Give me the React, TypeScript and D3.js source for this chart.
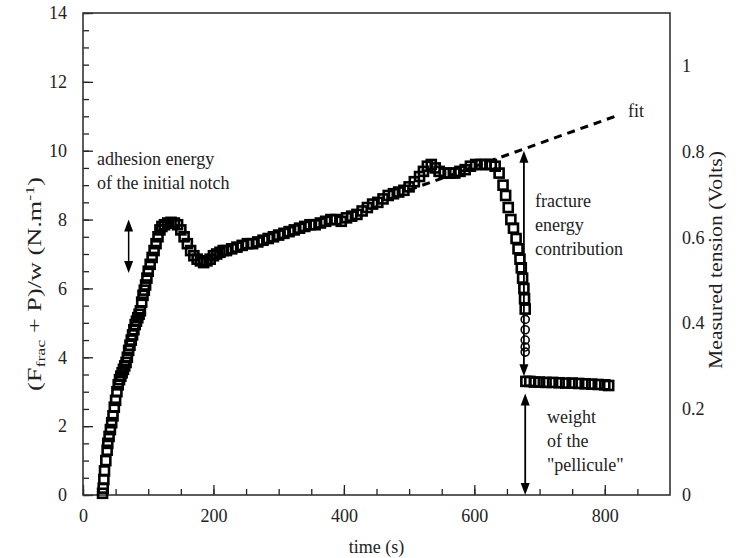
import React, { useRef, useEffect } from "react";
import * as d3 from "d3";

// measured points (time in s, (Ffrac+P)/w in N/m)
const squareTime = [
  30, 31, 32, 33, 35, 37, 38, 40, 42, 44, 46, 48, 50, 52, 54, 56, 58, 60, 62, 64,
  66, 68, 70, 72, 74, 76, 78, 80, 82, 84, 86, 88, 90, 92, 94, 96, 98, 100, 103, 106,
  109, 112, 115, 118, 121, 125, 130, 135, 140, 145, 150, 155, 160, 165, 170, 175, 180, 185, 190, 195,
  200, 205, 210, 215, 220, 228, 236, 244, 252, 260, 268, 276, 284, 292, 300, 308, 316, 324, 332, 340,
  348, 356, 364, 372, 380, 388, 396, 404, 412, 420, 428, 436, 444, 452, 460, 468, 476, 484, 492, 500,
  508, 516, 522, 528, 534, 540, 546, 554, 562, 570, 578, 586, 594, 602, 610, 618, 626, 632, 638, 644,
  648, 652, 656, 660, 664, 667, 670, 672, 674, 676, 677, 678,
  679, 685, 692, 700, 710, 720, 730, 740, 750, 760, 770, 780, 790, 800, 806,
];
const squareValue = [
  0.05, 0.2, 0.45, 0.7, 1.0, 1.3, 1.5, 1.7, 1.9, 2.1, 2.3, 2.55, 2.75, 3.0, 3.2, 3.35, 3.45, 3.55, 3.65, 3.75,
  3.85, 4.0, 4.2, 4.35, 4.5, 4.65, 4.8, 4.95, 5.05, 5.15, 5.25, 5.35, 5.6, 5.8, 5.95, 6.1, 6.3, 6.5, 6.7, 6.9,
  7.1, 7.3, 7.5, 7.7, 7.8, 7.85, 7.9, 7.92, 7.9, 7.85, 7.7, 7.5, 7.3, 7.1, 6.95, 6.85, 6.8, 6.75, 6.8, 6.85,
  6.95, 7.0, 7.05, 7.1, 7.1, 7.15, 7.2, 7.25, 7.3, 7.3, 7.35, 7.4, 7.45, 7.5, 7.55, 7.6, 7.65, 7.7, 7.75, 7.8,
  7.85, 7.85, 7.9, 7.95, 8.0, 8.0, 7.95, 8.05, 8.1, 8.15, 8.25, 8.35, 8.45, 8.5, 8.6, 8.7, 8.75, 8.8, 8.85, 8.95,
  9.1, 9.25, 9.4, 9.55, 9.6, 9.5, 9.4, 9.35, 9.35, 9.35, 9.4, 9.45, 9.55, 9.6, 9.6, 9.6, 9.6, 9.55, 9.35, 9.0,
  8.7, 8.35, 8.0, 7.75, 7.45, 7.15, 6.85, 6.6, 6.3, 6.0, 5.7, 5.4,
  3.3, 3.3, 3.28, 3.28, 3.27, 3.27, 3.26, 3.25, 3.25, 3.24, 3.23, 3.22, 3.21, 3.2, 3.18,
];
const circleTime = [678, 678, 678, 678, 678];
const circleValue = [5.1, 4.8, 4.5, 4.3, 4.15];

// linear fit of the propagation part
const fitTime = [500, 816];
const fitValue = [8.86, 11.0];

const leftTicks = [0, 2, 4, 6, 8, 10, 12, 14];
const rightTicks = [0, 0.2, 0.4, 0.6, 0.8, 1];
const bottomTicks = [0, 200, 400, 600, 800];

const FONT = "'Liberation Serif', 'Times New Roman', serif";
const INK = "#222";

const App = () => {
  const svgRef = useRef(null);

  useEffect(() => {
    const width = 743;
    const height = 558;
    const svg = d3.select(svgRef.current);
    svg.selectAll("*").remove();
    svg.attr("viewBox", `0 0 ${width} ${height}`);

    const margin = { top: 13, right: 73, bottom: 63, left: 83 };
    const innerW = width - margin.left - margin.right;
    const innerH = height - margin.top - margin.bottom;

    const x = d3.scaleLinear().domain([0, 900]).range([0, innerW]);
    const y = d3.scaleLinear().domain([0, 14]).range([innerH, 0]);
    const yRight = d3.scaleLinear().domain([0, 1.122]).range([innerH, 0]);

    const g = svg
      .append("g")
      .attr("transform", `translate(${margin.left},${margin.top})`);

    // axes: minor then major ticks, pointing inward
    const styleAxis = (sel) => {
      sel.select(".domain").remove();
      sel.selectAll("line").attr("stroke", INK).attr("stroke-width", 1.3);
      sel
        .selectAll("text")
        .attr("font-family", FONT)
        .attr("font-size", 18)
        .attr("fill", INK);
    };

    g.append("g")
      .call(d3.axisLeft(y).tickValues(d3.range(0, 14.01, 0.5)).tickSize(-6).tickFormat(() => ""))
      .call(styleAxis);
    g.append("g")
      .call(d3.axisLeft(y).tickValues(leftTicks).tickSize(-10).tickPadding(16).tickFormat(d3.format("d")))
      .call(styleAxis);

    g.append("g")
      .attr("transform", `translate(0,${innerH})`)
      .call(d3.axisBottom(x).tickValues(d3.range(0, 900, 50)).tickSize(-6).tickFormat(() => ""))
      .call(styleAxis);
    g.append("g")
      .attr("transform", `translate(0,${innerH})`)
      .call(d3.axisBottom(x).tickValues(bottomTicks).tickSize(-10).tickPadding(14).tickFormat(d3.format("d")))
      .call(styleAxis);

    g.append("g")
      .attr("transform", `translate(${innerW},0)`)
      .call(d3.axisRight(yRight).tickValues(rightTicks).tickSize(0).tickPadding(12).tickFormat((d) => `${d}`))
      .call(styleAxis);

    // frame
    g.append("rect")
      .attr("width", innerW)
      .attr("height", innerH)
      .attr("fill", "none")
      .attr("stroke", "#333")
      .attr("stroke-width", 1.6);

    // fit line
    g.append("path")
      .datum(fitTime.map((t, i) => [t, fitValue[i]]))
      .attr("fill", "none")
      .attr("stroke", "#000")
      .attr("stroke-width", 3)
      .attr("stroke-dasharray", "8,6")
      .attr(
        "d",
        d3
          .line()
          .x((d) => x(d[0]))
          .y((d) => y(d[1]))
      );

    // data markers
    const sq = 9;
    g.append("g")
      .selectAll("rect")
      .data(squareTime.map((t, i) => [t, squareValue[i]]))
      .enter()
      .append("rect")
      .attr("x", (d) => x(d[0]) - sq / 2)
      .attr("y", (d) => y(d[1]) - sq / 2)
      .attr("width", sq)
      .attr("height", sq)
      .attr("fill", "none")
      .attr("stroke", "#000")
      .attr("stroke-width", 2.6);

    g.append("g")
      .selectAll("circle")
      .data(circleTime.map((t, i) => [t, circleValue[i]]))
      .enter()
      .append("circle")
      .attr("cx", (d) => x(d[0]))
      .attr("cy", (d) => y(d[1]))
      .attr("r", 4)
      .attr("fill", "none")
      .attr("stroke", "#000")
      .attr("stroke-width", 1.6);

    // double arrows
    const doubleArrow = (t, v0, v1, w) => {
      const px = x(t);
      const top = y(v0);
      const bot = y(v1);
      const head = 12;
      const half = 4.5;
      g.append("line")
        .attr("x1", px)
        .attr("x2", px)
        .attr("y1", top + head - 2)
        .attr("y2", bot - head + 2)
        .attr("stroke", "#000")
        .attr("stroke-width", w);
      g.append("path")
        .attr("d", `M${px},${top}L${px - half},${top + head}L${px + half},${top + head}Z`)
        .attr("fill", "#000");
      g.append("path")
        .attr("d", `M${px},${bot}L${px - half},${bot - head}L${px + half},${bot - head}Z`)
        .attr("fill", "#000");
    };
    doubleArrow(70, 8.0, 6.45, 1.5);
    doubleArrow(676, 10.0, 3.45, 1.8);
    doubleArrow(678, 2.95, 0, 1.8);

    // annotation texts
    const label = (lines, px, py) => {
      lines.forEach((s, i) => {
        g.append("text")
          .attr("x", px)
          .attr("y", py + i * 24)
          .attr("font-family", FONT)
          .attr("font-size", 18)
          .attr("fill", INK)
          .text(s);
      });
    };
    label(["adhesion energy", "of the initial notch"], 14, 152);
    label(["fracture", "energy", "contribution"], 452, 194);
    label(["weight", "of the", "\"pellicule\""], 464, 410);
    label(["fit"], 545, 104);

    // axis titles
    svg
      .append("text")
      .attr("x", margin.left + innerW / 2)
      .attr("y", 553)
      .attr("text-anchor", "middle")
      .attr("font-family", FONT)
      .attr("font-size", 18)
      .attr("fill", INK)
      .text("time (s)");

    const leftTitle = svg
      .append("text")
      .attr("transform", "translate(41,284) rotate(-90)")
      .attr("text-anchor", "middle")
      .attr("font-family", FONT)
      .attr("font-size", 19)
      .attr("fill", INK)
      .attr("textLength", 214)
      .attr("lengthAdjust", "spacingAndGlyphs");
    leftTitle.append("tspan").text("(F");
    leftTitle.append("tspan").attr("font-size", 13).attr("dy", 4).text("frac");
    leftTitle.append("tspan").attr("dy", -4).text(" + P)/w (N.m");
    leftTitle.append("tspan").attr("font-size", 13).attr("dy", -7).text("-1");
    leftTitle.append("tspan").attr("dy", 7).text(")");

    svg
      .append("text")
      .attr("transform", "translate(722,260) rotate(-90)")
      .attr("text-anchor", "middle")
      .attr("font-family", FONT)
      .attr("font-size", 19)
      .attr("fill", INK)
      .attr("textLength", 218)
      .attr("lengthAdjust", "spacingAndGlyphs")
      .text("Measured tension (Volts)");
  }, []);

  return (
    <svg
      ref={svgRef}
      width={743}
      height={558}
      style={{ position: "absolute", left: 0, top: 0, background: "#fff" }}
    />
  );
};

export default App;
